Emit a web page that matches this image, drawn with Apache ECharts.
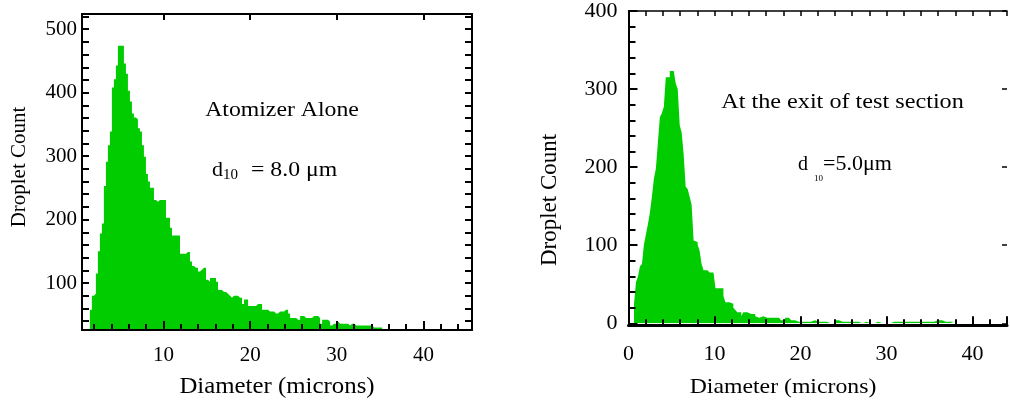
<!DOCTYPE html>
<html>
<head>
<meta charset="utf-8">
<script src="https://cdn.jsdelivr.net/npm/echarts@6/dist/echarts.min.js"></script>
<style>
html,body{margin:0;padding:0;background:#fff;}
#c{width:1010px;height:400px;}
</style>
</head>
<body>
<div id="c"></div>
<script>
// ---------------- data ----------------
const BIN_WIDTH = 0.231;          // microns per histogram bin
const LEFT_BIN_START = 1.51;      // first bin edge, left panel (microns)
const RIGHT_BIN_START = 0.64;     // first bin edge, right panel (microns)

// Left panel: "Atomizer Alone" droplet counts per bin
const leftCounts = [
  58, 80, 83, 115, 150, 178, 194, 253, 291, 317, 339, 408, 421, 443, 474, 474,
  474, 446, 430, 403, 386, 367, 361, 358, 344, 339, 317, 299, 272, 260, 250, 250,
  231, 228, 231, 231, 231, 231, 203, 203, 187, 175, 175, 175, 175, 146, 146, 146,
  149, 149, 134, 127, 124, 124, 118, 121, 124, 124, 105, 102, 108, 108, 108, 102,
  89, 89, 86, 86, 83, 80, 77, 80, 80, 80, 77, 77, 67, 74, 74, 64,
  64, 64, 64, 67, 67, 67, 58, 58, 58, 55, 55, 55, 52, 52, 55, 55,
  55, 58, 58, 52, 45, 45, 45, 42, 42, 48, 48, 45, 45, 45, 45, 48,
  48, 48, 45, 36, 42, 42, 42, 39, 33, 36, 36, 39, 36, 36, 36, 36,
  36, 33, 36, 36, 33, 33, 33, 33, 33, 33, 33, 33, 33, 30, 30, 30,
  30, 30
];

// Right panel: "At the exit of test section" droplet counts per bin
const rightCounts = [
  25, 53, 60, 73, 76, 101, 114, 127, 142, 162, 185, 198, 231, 264, 269, 277,
  315, 315, 323, 323, 323, 307, 300, 254, 244, 216, 175, 172, 162, 152, 106, 104,
  101, 93, 76, 68, 68, 68, 65, 65, 65, 45, 45, 45, 45, 35, 27, 27,
  27, 25, 20, 17, 14, 14, 9, 14, 14, 14, 12, 12, 12, 9, 7, 9,
  9, 9, 7, 7, 7, 7, 7, 7, 7, 7, 4, 4, 7, 7, 7, 4,
  4, 4, 2, 2, 2, 2, 2, 2, 2, 4, 4, 2, 2, 2, 2, 2,
  2, 0, 0, 0, 0, 4, 4, 4, 2, 2, 2, 2, 2, 2, 2, 2,
  2, 2, 0, 2, 2, 2, 0, 0, 0, 2, 2, 2, 0, 0, 0, 2,
  0, 0, 2, 2, 2, 0, 2, 2, 2, 2, 2, 2, 2, 2, 2, 2,
  2, 2, 2, 2, 2, 2, 2, 2, 4, 4, 4, 2, 2, 2, 2, 0,
  2, 2
];

// tick labels
const leftXTickLabels = [10, 20, 30, 40];
const rightXTickLabels = [0, 10, 20, 30, 40];
const leftYTickLabels = [100, 200, 300, 400, 500];
const rightYTickLabels = [0, 100, 200, 300, 400];

// texts
const leftNote = 'Atomizer Alone';
const leftD10 = '= 8.0 μm';
const rightNote = 'At the exit of test section';
const rightD10 = '=5.0μm';
const xTitle = 'Diameter (microns)';
const yTitle = 'Droplet Count';

// ---------------- chart ----------------
const FONT = 'Liberation Serif';
const GREEN = '#00cc00';
const BLACK = '#000';

function steps(start, counts) {
  const pts = counts.map((c, i) => [+(start + i * BIN_WIDTH).toFixed(4), c]);
  pts.push([+(start + counts.length * BIN_WIDTH).toFixed(4), counts[counts.length - 1]]);
  return pts;
}
function labelIn(list) {
  return function (v) {
    for (const t of list) if (Math.abs(v - t) < 1e-6) return String(t);
    return '';
  };
}
function line(w, show) { return { show: show !== false, onZero: false, lineStyle: { color: BLACK, width: w } }; }
function tick(len, w) { return { show: true, inside: true, length: len, lineStyle: { color: BLACK, width: w } }; }
const noLabel = { show: false };
const noSplit = { show: false };

const chart = echarts.init(document.getElementById('c'), null, { renderer: 'canvas' });

function gtext(text, x, y, size, align, opts) {
  opts = opts || {};
  return {
    type: 'text', x: x, y: y, rotation: opts.rotation || 0,
    scaleX: opts.sx || 1, scaleY: 1, z: 10, silent: true,
    style: { text: text, x: 0, y: 0, fill: BLACK, fontFamily: FONT, fontSize: size,
             align: align, verticalAlign: 'middle' }
  };
}

const option = {
  animation: false,
  backgroundColor: '#fff',
  grid: [
    { left: 82, top: 14, width: 390, height: 316 },
    { left: 628.5, top: 9.3, width: 380, height: 314 }
  ],
  xAxis: [
    { type: 'value', gridIndex: 0, position: 'bottom', min: 0.6, max: 45.6, splitNumber: 23,
      minInterval: 2, maxInterval: 2, z: 5, axisLine: line(2), axisTick: tick(6, 2), splitLine: noSplit,
      axisLabel: { margin: 15, fontFamily: FONT, fontSize: 21, color: BLACK, formatter: labelIn(leftXTickLabels) } },
    { type: 'value', gridIndex: 0, position: 'bottom', min: 0.6, max: 45.6, splitNumber: 5,
      minInterval: 10, maxInterval: 10, z: 5, axisLine: line(2, false), axisTick: tick(9, 2),
      splitLine: noSplit, axisLabel: noLabel },
    { type: 'value', gridIndex: 0, position: 'top', min: 0.6, max: 45.6, splitNumber: 5,
      minInterval: 10, maxInterval: 10, z: 5, axisLine: line(2), axisTick: tick(6, 2),
      splitLine: noSplit, axisLabel: noLabel },
    { type: 'value', gridIndex: 1, position: 'bottom', offset: 2, min: 0, max: 44, interval: 2,
      z: 5, axisLine: line(3), axisTick: tick(6, 2), splitLine: noSplit,
      axisLabel: { margin: 18, fontFamily: FONT, fontSize: 22, color: BLACK, formatter: labelIn(rightXTickLabels) } },
    { type: 'value', gridIndex: 1, position: 'bottom', offset: 2, min: 0, max: 44, interval: 10,
      z: 5, axisLine: line(3, false), axisTick: tick(9, 2), splitLine: noSplit, axisLabel: noLabel },
    { type: 'value', gridIndex: 1, position: 'top', min: 0, max: 44, interval: 2,
      z: 5, axisLine: line(1.5), axisTick: tick(5, 1.5), splitLine: noSplit, axisLabel: noLabel }
  ],
  yAxis: [
    { type: 'value', gridIndex: 0, position: 'left', min: 26, max: 524, splitNumber: 25,
      minInterval: 20, maxInterval: 20, z: 5, axisLine: line(2), axisTick: tick(7, 2), splitLine: noSplit,
      axisLabel: { margin: 5, fontFamily: FONT, fontSize: 21, color: BLACK, formatter: labelIn(leftYTickLabels) } },
    { type: 'value', gridIndex: 0, position: 'right', min: 26, max: 524, splitNumber: 25,
      minInterval: 20, maxInterval: 20, z: 5, axisLine: line(2), axisTick: tick(7, 2),
      splitLine: noSplit, axisLabel: noLabel },
    { type: 'value', gridIndex: 1, position: 'left', min: 0, max: 400, interval: 100,
      z: 5, axisLine: line(2), axisTick: tick(9, 2), splitLine: noSplit,
      minorTick: { show: true, splitNumber: 5, length: 7, lineStyle: { color: BLACK, width: 2 } },
      minorSplitLine: { show: false },
      axisLabel: { margin: 11, fontFamily: FONT, fontSize: 22, color: BLACK, formatter: labelIn(rightYTickLabels) } },
    { type: 'value', gridIndex: 1, position: 'right', min: 0, max: 400, interval: 100,
      z: 5, axisLine: line(1.5, false), axisTick: tick(5, 1.5), splitLine: noSplit, axisLabel: noLabel }
  ],
  series: [
    { type: 'line', name: leftNote, xAxisIndex: 0, yAxisIndex: 0, step: 'end', symbol: 'none',
      clip: true, silent: true, z: 2, data: steps(LEFT_BIN_START, leftCounts),
      lineStyle: { width: 0, opacity: 0 }, areaStyle: { color: GREEN, opacity: 1, origin: 'start' } },
    { type: 'line', name: rightNote, xAxisIndex: 3, yAxisIndex: 2, step: 'end', symbol: 'none',
      clip: true, silent: true, z: 2, data: steps(RIGHT_BIN_START, rightCounts),
      lineStyle: { width: 0, opacity: 0 }, areaStyle: { color: GREEN, opacity: 1, origin: 'start' } }
  ],
  graphic: [
    gtext(leftNote, 282, 110.7, 22, 'center', { sx: 1.08 }),
    gtext('d', 212, 170.7, 22, 'left'),
    gtext('10', 223, 175, 15, 'left'),
    gtext(leftD10, 251, 170.7, 22, 'left', { sx: 1.08 }),
    gtext(rightNote, 842.5, 102.7, 22, 'center', { sx: 1.1 }),
    gtext('d', 798, 164.4, 20, 'left'),
    gtext('10', 814, 179, 9, 'left'),
    gtext(rightD10, 823, 164.4, 20, 'left', { sx: 1.1 }),
    gtext(xTitle, 277, 387, 23, 'center', { sx: 1.08 }),
    gtext(xTitle, 783, 387, 22, 'center', { sx: 1.08 }),
    gtext(yTitle, 19, 167, 21, 'center', { rotation: Math.PI / 2 }),
    gtext(yTitle, 550, 200, 23, 'center', { rotation: Math.PI / 2 })
  ]
};
chart.setOption(option);
</script>
</body>
</html>
